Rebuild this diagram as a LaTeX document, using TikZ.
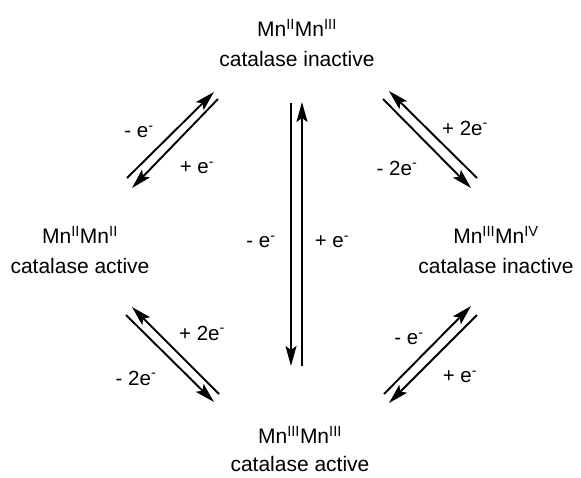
\documentclass[tikz,border=0pt]{standalone}
\usepackage{fontspec}
\setmainfont{Liberation Sans}
\usetikzlibrary{arrows.meta}
\begin{document}
\begin{tikzpicture}[x=1pt,y=-1pt,
  lbl/.style={font=\fontsize{21}{26}\selectfont, inner sep=0pt, align=center},
  small/.style={font=\fontsize{20.5}{24}\selectfont, inner sep=0pt},
  arr/.style={line width=1.9pt, -{Stealth[length=20pt,width=11pt,inset=4pt]}}]
\useasboundingbox (0,0) rectangle (581,477);
% species
\node[lbl] (top) at (297,43) {Mn\textsuperscript{II}Mn\textsuperscript{III}\\[4pt]catalase inactive};
\node[lbl] (left) at (80,250) {Mn\textsuperscript{II}Mn\textsuperscript{II}\\[4pt]catalase active};
\node[lbl] (right) at (496,250) {Mn\textsuperscript{III}Mn\textsuperscript{IV}\\[4pt]catalase inactive};
\node[lbl] (bot) at (300,449) {Mn\textsuperscript{III}Mn\textsuperscript{III}\\[2pt]catalase active};
% central vertical pair
\coordinate (v1s) at (291,103);
\coordinate (v1e) at (291,366);
\coordinate (v2s) at (302,366);
\coordinate (v2e) at (302,102);
\draw[arr] (v1s) -- (v1e);
\draw[arr] (v2s) -- (v2e);
\node[small] (vm) at (261,242) {- e\textsuperscript{-}};
\node[small] (vp) at (332,242) {+ e\textsuperscript{-}};
% upper left pair
\coordinate (ul1s) at (127,178);
\coordinate (ul1e) at (214,92);
\coordinate (ul2s) at (218,99);
\coordinate (ul2e) at (132,188);
\draw[arr] (ul1s) -- (ul1e);
\draw[arr] (ul2s) -- (ul2e);
\node[small] (ulm) at (139,132) {- e\textsuperscript{-}};
\node[small] (ulp) at (197,168) {+ e\textsuperscript{-}};
% upper right pair
\coordinate (ur1s) at (477,178);
\coordinate (ur1e) at (389,91);
\coordinate (ur2s) at (383,99);
\coordinate (ur2e) at (471,188);
\draw[arr] (ur1s) -- (ur1e);
\draw[arr] (ur2s) -- (ur2e);
\node[small] (urp) at (465,128) {+ 2e\textsuperscript{-}};
\node[small] (urm) at (397,168) {- 2e\textsuperscript{-}};
% lower left pair
\coordinate (ll1s) at (219,394);
\coordinate (ll1e) at (132,307);
\coordinate (ll2s) at (126,315);
\coordinate (ll2e) at (214,402);
\draw[arr] (ll1s) -- (ll1e);
\draw[arr] (ll2s) -- (ll2e);
\node[small] (llp) at (202,333) {+ 2e\textsuperscript{-}};
\node[small] (llm) at (136,378) {- 2e\textsuperscript{-}};
% lower right pair
\coordinate (lr1s) at (384,394);
\coordinate (lr1e) at (471,306);
\coordinate (lr2s) at (477,315);
\coordinate (lr2e) at (389,403);
\draw[arr] (lr1s) -- (lr1e);
\draw[arr] (lr2s) -- (lr2e);
\node[small] (lrm) at (409,339) {- e\textsuperscript{-}};
\node[small] (lrp) at (460,377) {+ e\textsuperscript{-}};
\end{tikzpicture}
\end{document}
